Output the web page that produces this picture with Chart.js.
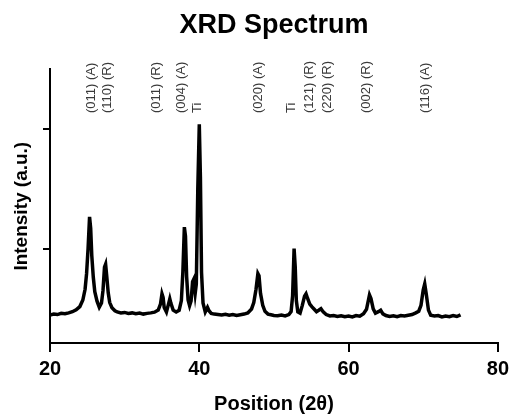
<!DOCTYPE html>
<html>
<head>
<meta charset="utf-8">
<script src="https://cdn.jsdelivr.net/npm/chart.js@4.4.1/dist/chart.umd.min.js"></script>
<style>
  html, body { margin: 0; padding: 0; background: #fff; }
  #wrap { width: 514px; height: 416px; }
</style>
</head>
<body>
<div id="wrap"><canvas id="xrdChart" width="514" height="416"></canvas></div>
<script>
// 2-theta positions (degrees) and measured intensity (a.u.)
const twoTheta = [
  20.0, 20.5, 21.0, 21.5, 22.0, 22.5, 23.0, 23.5, 24.0, 24.4, 24.7, 24.9, 25.1, 25.3, 25.45, 25.6, 25.8, 26.0, 26.3, 26.6,
  26.9, 27.1, 27.3, 27.45, 27.6, 27.8, 28.0, 28.3, 28.7, 29.0, 29.5, 30.0, 30.5, 31.0, 31.5, 32.0, 32.5, 33.0, 33.5, 34.0,
  34.5, 34.8, 35.0, 35.15, 35.3, 35.6, 35.9, 36.05, 36.2, 36.5, 36.9, 37.3, 37.6, 37.8, 38.0, 38.15, 38.3, 38.5, 38.7, 38.9,
  39.1, 39.25, 39.45, 39.6, 39.8, 40.0, 40.15, 40.3, 40.5, 40.8, 41.1, 41.3, 41.6, 42.0, 42.5, 43.0, 43.5, 44.0, 44.5, 45.0,
  45.5, 46.0, 46.5, 47.0, 47.3, 47.6, 47.85, 48.0, 48.2, 48.5, 48.8, 49.2, 49.6, 50.0, 50.5, 51.0, 51.5, 52.0, 52.3, 52.5,
  52.7, 52.85, 53.0, 53.2, 53.5, 53.8, 54.1, 54.3, 54.5, 54.8, 55.1, 55.4, 55.7, 56.0, 56.3, 56.6, 57.0, 57.5, 58.0, 58.5,
  59.0, 59.5, 60.0, 60.5, 61.0, 61.5, 62.0, 62.4, 62.8, 63.0, 63.3, 63.6, 64.0, 64.3, 64.6, 65.0, 65.5, 66.0, 66.5, 67.0,
  67.5, 68.0, 68.5, 69.0, 69.4, 69.7, 70.0, 70.2, 70.4, 70.7, 71.0, 71.5, 72.0, 72.5, 73.0, 73.5, 74.0, 74.5, 75.0
];
const intensity = [
  445, 452, 448, 458, 455, 462, 472, 488, 515, 570, 660, 790, 1000, 1265, 1170, 940, 760, 640, 560, 510,
  545, 650, 845, 870, 770, 630, 548, 505, 480, 470, 462, 466, 458, 462, 455, 460, 452, 458, 462, 468,
  485, 535, 622, 592, 508, 470, 542, 580, 542, 485, 470, 484, 565, 805, 1180, 1105, 770, 570, 522, 562,
  722, 742, 625, 702, 1500, 2040, 1600, 800, 545, 470, 508, 480, 458, 452, 448, 444, 450, 442, 448, 440,
  446, 452, 462, 495, 548, 660, 790, 772, 625, 525, 475, 452, 446, 440, 438, 444, 436, 448, 472, 605,
  1000, 850, 565, 470, 460, 525, 602, 622, 585, 535, 512, 492, 472, 484, 497, 470, 448, 436, 440, 432,
  438, 430, 436, 428, 440, 434, 455, 492, 612, 582, 495, 460, 472, 484, 454, 440, 432, 438, 430, 440,
  436, 442, 448, 462, 476, 525, 655, 705, 622, 485, 442, 436, 440, 428, 436, 430, 440, 432, 446
];
// reflection labels and their 2-theta positions
const peakLabels = ['(011) (A)', '(110) (R)', '(011) (R)', '(004) (A)', 'Ti', '(020) (A)', 'Ti', '(121) (R)', '(220) (R)', '(002) (R)', '(116) (A)'];
const peakLabelPos = [25.6, 27.7, 34.3, 37.6, 39.8, 47.9, 52.3, 54.7, 57.1, 62.4, 70.3];
const xTicks = [20, 40, 60, 80];
const yTicks = [1000, 2000];

const points = twoTheta.map((t, i) => ({ x: t, y: intensity[i] }));

const peakLabelPlugin = {
    id: 'peakLabels',
    afterDraw(chart) {
        const ctx = chart.ctx;
        const xs = chart.scales.x;
        ctx.save();
        ctx.font = '13px "Liberation Sans", Arial, sans-serif';
        ctx.fillStyle = '#3a3a3a';
        ctx.textAlign = 'left';
        ctx.textBaseline = 'middle';
        peakLabels.forEach((txt, i) => {
            ctx.save();
            ctx.translate(xs.getPixelForValue(peakLabelPos[i]), 113);
            ctx.rotate(-Math.PI / 2);
            ctx.fillText(txt, 0, 0);
            ctx.restore();
        });
        ctx.restore();
    }
};

const ctx = document.getElementById('xrdChart').getContext('2d');
new Chart(ctx, {
    type: 'line',
    data: {
        datasets: [{
            label: 'XRD',
            data: points,
            borderColor: '#000',
            borderWidth: 3.5,
            pointRadius: 0,
            tension: 0,
            fill: false
        }]
    },
    options: {
        responsive: false,
        animation: false,
        layout: { padding: { left: 0, right: 14, top: 0, bottom: 0 } },
        plugins: {
            legend: { display: false },
            tooltip: { enabled: false },
            title: {
                display: true,
                text: 'XRD Spectrum',
                fullSize: false,
                color: '#000',
                font: { family: '"Liberation Sans", Arial, sans-serif', size: 27, weight: 'bold' },
                padding: { top: 9, bottom: 28 }
            }
        },
        scales: {
            x: {
                type: 'linear',
                min: 20,
                max: 80,
                afterBuildTicks: s => { s.ticks = xTicks.map(v => ({ value: v })); },
                afterFit: s => { s.height = 73; },
                border: { display: true, color: '#000', width: 2 },
                grid: { drawOnChartArea: false, color: '#000', lineWidth: 2, tickLength: 9 },
                ticks: {
                    color: '#000',
                    padding: 5,
                    maxRotation: 0,
                    font: { family: '"Liberation Sans", Arial, sans-serif', size: 20, weight: 'bold' }
                },
                title: {
                    display: true,
                    text: 'Position (2θ)',
                    color: '#000',
                    font: { family: '"Liberation Sans", Arial, sans-serif', size: 20, weight: 'bold' },
                    padding: { top: 3, bottom: 0 }
                }
            },
            y: {
                min: 210,
                max: 2500,
                afterBuildTicks: s => { s.ticks = yTicks.map(v => ({ value: v })); },
                afterFit: s => { s.width = 50; },
                border: { display: true, color: '#000', width: 2 },
                grid: { drawOnChartArea: false, color: '#000', lineWidth: 2, tickLength: 7 },
                ticks: { display: true, callback: () => '', padding: 0 },
                title: {
                    display: true,
                    text: 'Intensity (a.u.)',
                    color: '#000',
                    font: { family: '"Liberation Sans", Arial, sans-serif', size: 19, weight: 'bold' },
                    padding: { top: 10, bottom: 0 }
                }
            }
        }
    },
    plugins: [peakLabelPlugin]
});
</script>
</body>
</html>
